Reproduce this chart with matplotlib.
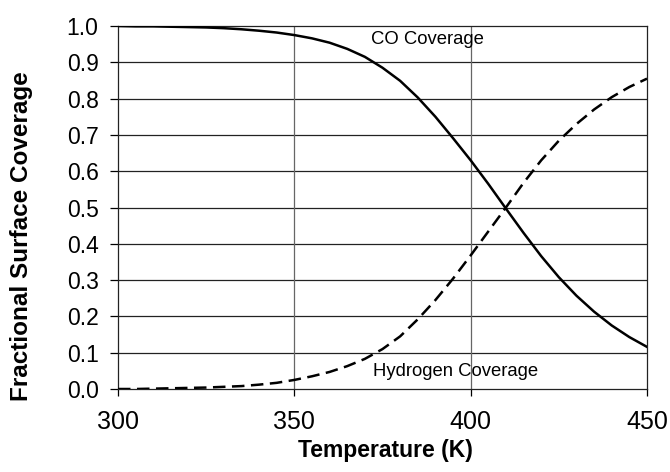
import numpy as np
import matplotlib
matplotlib.use("Agg")
import matplotlib.pyplot as plt

plt.rcParams["font.family"] = ["Liberation Sans", "DejaVu Sans"]

# surface coverage vs temperature, read every 5 K
temp = np.arange(300, 451, 5)
co_cov = [1.000, 0.999, 0.999, 0.998, 0.997, 0.996, 0.994, 0.991, 0.987, 0.982,
          0.975, 0.966, 0.954, 0.937, 0.915, 0.885, 0.849, 0.803, 0.750, 0.691,
          0.630, 0.565, 0.497, 0.430, 0.366, 0.308, 0.257, 0.213, 0.175, 0.143,
          0.116]
h_cov = [0.000, 0.000, 0.001, 0.002, 0.003, 0.004, 0.006, 0.008, 0.012, 0.017,
         0.025, 0.035, 0.047, 0.063, 0.083, 0.110, 0.145, 0.192, 0.245, 0.304,
         0.368, 0.434, 0.500, 0.568, 0.630, 0.684, 0.730, 0.770, 0.804, 0.832,
         0.855]

x_ticks = [300, 350, 400, 450]
y_ticks = np.round(np.arange(0, 1.01, 0.1), 1)

fig = plt.figure(figsize=(6.7, 4.72), dpi=100)
ax = fig.add_axes([118 / 670, 1 - 389 / 472, 529 / 670, 363 / 472])

for y in y_ticks[1:-1]:
    ax.axhline(y, color="#222222", lw=0.9, zorder=1)
for x in x_ticks[1:-1]:
    ax.axvline(x, color="#666666", lw=0.9, zorder=1)

ax.plot(temp, co_cov, color="black", lw=1.8, zorder=3)
ax.plot(temp, h_cov, color="black", lw=1.8, dashes=(5, 2.6), zorder=3)

ax.text(371.7, 0.962, "CO Coverage", fontsize=13.3, va="center", ha="left")
ax.text(372.2, 0.047, "Hydrogen Coverage", fontsize=13.3, va="center", ha="left")

ax.set_xlim(300, 450)
ax.set_ylim(0, 1)
ax.set_xticks(x_ticks)
ax.set_yticks(y_ticks)
ax.set_yticklabels([f"{v:.1f}" for v in y_ticks])
ax.tick_params(axis="y", direction="out", length=6, width=0.9, pad=8, labelsize=16.5)
ax.tick_params(axis="x", direction="out", length=5, width=0.9, pad=10, labelsize=18)
for s in ax.spines.values():
    s.set_linewidth(0.9)
    s.set_color("#222222")

fig.text(385 / 670, 1 - 451 / 472, "Temperature (K)", fontsize=16.5,
         fontweight="bold", ha="center", va="center")
fig.text(22 / 670, 1 - 236 / 472, "Fractional Surface Coverage", fontsize=17.5,
         fontweight="bold", ha="center", va="center", rotation=90)

fig.savefig("out.png", dpi=100)
